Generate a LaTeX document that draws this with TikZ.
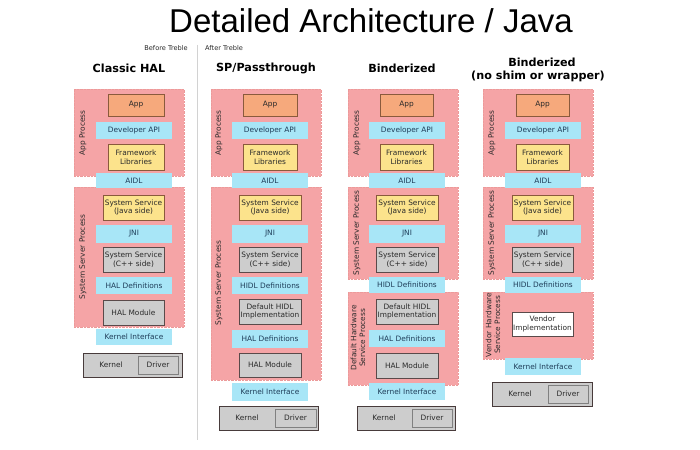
\documentclass[tikz,border=0pt]{standalone}
\usepackage{fontspec}
\setmainfont{DejaVu Sans}
\newfontfamily\titlefont{Liberation Sans}
\definecolor{pinkfill}{HTML}{F5A4A6}
\definecolor{pinkline}{HTML}{EC9A9A}
\definecolor{orangefill}{HTML}{F6A97C}
\definecolor{yellowfill}{HTML}{FCE38C}
\definecolor{bluefill}{HTML}{A8E6F7}
\definecolor{grayfill}{HTML}{CDCDCD}
\definecolor{brownline}{HTML}{8A5A3C}
\definecolor{darkline}{HTML}{5A4A4A}
\definecolor{navytext}{HTML}{1E3C58}
\definecolor{boxtext}{HTML}{2A2A2A}
\tikzset{
  base/.style={inner sep=0pt, align=center, font=\fontsize{7.4}{8.6}\selectfont, text=boxtext},
  procbox/.style={base, fill=pinkfill, draw=pinkline, densely dotted, line width=0.4pt},
  appbox/.style={base, fill=orangefill, draw=brownline, line width=0.7pt},
  fwbox/.style={base, fill=yellowfill, draw=brownline, line width=0.7pt},
  bluebox/.style={base, fill=bluefill, text=navytext},
  graybox/.style={base, fill=grayfill, draw=darkline, line width=0.7pt},
  whitebox/.style={base, fill=white, draw=darkline, line width=0.6pt},
  kernelbox/.style={base, fill=grayfill, draw=darkline!80!black, line width=1pt},
  driverbox/.style={base, fill=grayfill, draw=gray, line width=0.8pt},
  proclabel/.style={base, rotate=90, text=boxtext},
  coltitle/.style={font=\fontsize{11.2}{13.4}\selectfont\bfseries, text=black, inner sep=0pt},
  treble/.style={font=\fontsize{6.6}{7.6}\selectfont, text=boxtext, inner sep=0pt},
}
\newcommand\bx[7]{\node[#2, minimum width={(#5)-(#3)}, minimum height={(#6)-(#4)}] (#1) at ({((#3)+(#5))/2},{((#4)+(#6))/2}) {#7};}
\begin{document}
\begin{tikzpicture}[x=1pt,y=-1pt]
\useasboundingbox (0,0) rectangle (700,449);
\fill[white] (0,0) rectangle (700,449);
% title
\node[font=\titlefont\fontsize{33}{38}\selectfont, anchor=base, inner sep=0pt] (title) at (371,33) {Detailed Architecture / Java};
\node[treble, anchor=east] (before) at (188,48) {Before Treble};
\node[treble, anchor=west] (after) at (205,48) {After Treble};
\coordinate (septop) at (197,45);
\coordinate (sepbot) at (197,440);
\draw[gray!35, line width=0.8pt] (septop) -- (sepbot);
% column titles
\node[coltitle] (t1) at (129,68) {Classic HAL};
\node[coltitle] (t2) at (266,68) {SP/Passthrough};
\node[coltitle] (t3) at (402,68) {Binderized};
\node[coltitle] (t4a) at (542,62) {Binderized};
\node[coltitle] (t4b) at (538,76) {(no shim or wrapper)};

% ===== Column 1: Classic HAL =====
\bx{p1a}{procbox}{74}{89}{184}{176}{}
\bx{p1b}{procbox}{74}{187}{184}{327}{}
\node[proclabel] (l1a) at (83,133) {App Process};
\node[proclabel] (l1b) at (83,257) {System Server Process};
\bx{c1app}{appbox}{108}{94}{164}{116}{App}
\bx{c1dev}{bluebox}{96}{122}{172}{139}{Developer API}
\bx{c1fw}{fwbox}{108}{144}{164}{170}{Framework\\Libraries}
\bx{c1aidl}{bluebox}{96}{173}{172}{188}{AIDL}
\bx{c1java}{fwbox}{103}{195}{164}{220}{System Service\\(Java side)}
\bx{c1jni}{bluebox}{96}{225}{172}{243}{JNI}
\bx{c1cpp}{graybox}{103}{247}{164}{272}{System Service\\(C++ side)}
\bx{c1hal}{bluebox}{96}{277}{172}{294}{HAL Definitions}
\bx{c1mod}{graybox}{103}{300}{164}{325}{HAL Module}
\bx{c1ki}{bluebox}{96}{329}{172}{345}{Kernel Interface}
\bx{c1k}{kernelbox}{83}{353}{182}{377}{}
\bx{c1drv}{driverbox}{138}{356}{178}{374}{Driver}
\node[base] (c1kl) at (111,365) {Kernel};

% ===== Column 2: SP/Passthrough =====
\bx{p2a}{procbox}{211}{89}{321}{176}{}
\bx{p2b}{procbox}{211}{187}{321}{380}{}
\node[proclabel] (l2a) at (219,133) {App Process};
\node[proclabel] (l2b) at (219,283) {System Server Process};
\bx{c2app}{appbox}{243}{94}{297}{116}{App}
\bx{c2dev}{bluebox}{232}{122}{308}{139}{Developer API}
\bx{c2fw}{fwbox}{243}{144}{297}{170}{Framework\\Libraries}
\bx{c2aidl}{bluebox}{232}{173}{308}{188}{AIDL}
\bx{c2java}{fwbox}{239}{195}{301}{220}{System Service\\(Java side)}
\bx{c2jni}{bluebox}{232}{225}{308}{243}{JNI}
\bx{c2cpp}{graybox}{239}{247}{301}{272}{System Service\\(C++ side)}
\bx{c2hidl}{bluebox}{232}{277}{308}{294}{HIDL Definitions}
\bx{c2impl}{graybox}{239}{299}{301}{324}{Default HIDL\\Implementation}
\bx{c2hal}{bluebox}{232}{330}{308}{348}{HAL Definitions}
\bx{c2mod}{graybox}{239}{353}{301}{377}{HAL Module}
\bx{c2ki}{bluebox}{232}{383}{308}{401}{Kernel Interface}
\bx{c2k}{kernelbox}{219}{406}{318}{430}{}
\bx{c2drv}{driverbox}{275}{409}{316}{427}{Driver}
\node[base] (c2kl) at (247,418) {Kernel};

% ===== Column 3: Binderized =====
\bx{p3a}{procbox}{348}{89}{458}{176}{}
\bx{p3b}{procbox}{348}{187}{458}{279}{}
\bx{p3c}{procbox}{348}{292}{458}{385}{}
\node[proclabel] (l3a) at (357,133) {App Process};
\node[proclabel] (l3b) at (357,233) {System Server Process};
\node[proclabel] (l3c) at (358,338) {Default Hardware\\Service Process};
\bx{c3app}{appbox}{380}{94}{433}{116}{App}
\bx{c3dev}{bluebox}{369}{122}{445}{139}{Developer API}
\bx{c3fw}{fwbox}{380}{144}{433}{170}{Framework\\Libraries}
\bx{c3aidl}{bluebox}{369}{173}{445}{188}{AIDL}
\bx{c3java}{fwbox}{376}{195}{438}{220}{System Service\\(Java side)}
\bx{c3jni}{bluebox}{369}{225}{445}{243}{JNI}
\bx{c3cpp}{graybox}{376}{247}{438}{272}{System Service\\(C++ side)}
\bx{c3hidl}{bluebox}{369}{277}{445}{293}{HIDL Definitions}
\bx{c3impl}{graybox}{376}{299}{438}{324}{Default HIDL\\Implementation}
\bx{c3hal}{bluebox}{369}{330}{445}{347}{HAL Definitions}
\bx{c3mod}{graybox}{376}{353}{438}{378}{HAL Module}
\bx{c3ki}{bluebox}{369}{383}{445}{400}{Kernel Interface}
\bx{c3k}{kernelbox}{357}{406}{455}{430}{}
\bx{c3drv}{driverbox}{412}{409}{452}{427}{Driver}
\node[base] (c3kl) at (384,418) {Kernel};

% ===== Column 4: Binderized (no shim or wrapper) =====
\bx{p4a}{procbox}{483}{89}{593}{176}{}
\bx{p4b}{procbox}{483}{187}{593}{279}{}
\bx{p4c}{procbox}{483}{292}{593}{359}{}
\node[proclabel] (l4a) at (492,133) {App Process};
\node[proclabel] (l4b) at (492,233) {System Server Process};
\node[proclabel] (l4c) at (493,325) {Vendor Hardware\\Service Process};
\bx{c4app}{appbox}{516}{94}{569}{116}{App}
\bx{c4dev}{bluebox}{505}{122}{581}{139}{Developer API}
\bx{c4fw}{fwbox}{516}{144}{569}{170}{Framework\\Libraries}
\bx{c4aidl}{bluebox}{505}{173}{581}{188}{AIDL}
\bx{c4java}{fwbox}{512}{195}{573}{220}{System Service\\(Java side)}
\bx{c4jni}{bluebox}{505}{225}{581}{243}{JNI}
\bx{c4cpp}{graybox}{512}{247}{573}{272}{System Service\\(C++ side)}
\bx{c4hidl}{bluebox}{505}{277}{581}{293}{HIDL Definitions}
\bx{c4vend}{whitebox}{512}{312}{573}{336}{Vendor\\Implementation}
\bx{c4ki}{bluebox}{505}{358}{581}{375}{Kernel Interface}
\bx{c4k}{kernelbox}{492}{382}{592}{406}{}
\bx{c4drv}{driverbox}{548}{385}{588}{403}{Driver}
\node[base] (c4kl) at (520,394) {Kernel};
\end{tikzpicture}
\end{document}
